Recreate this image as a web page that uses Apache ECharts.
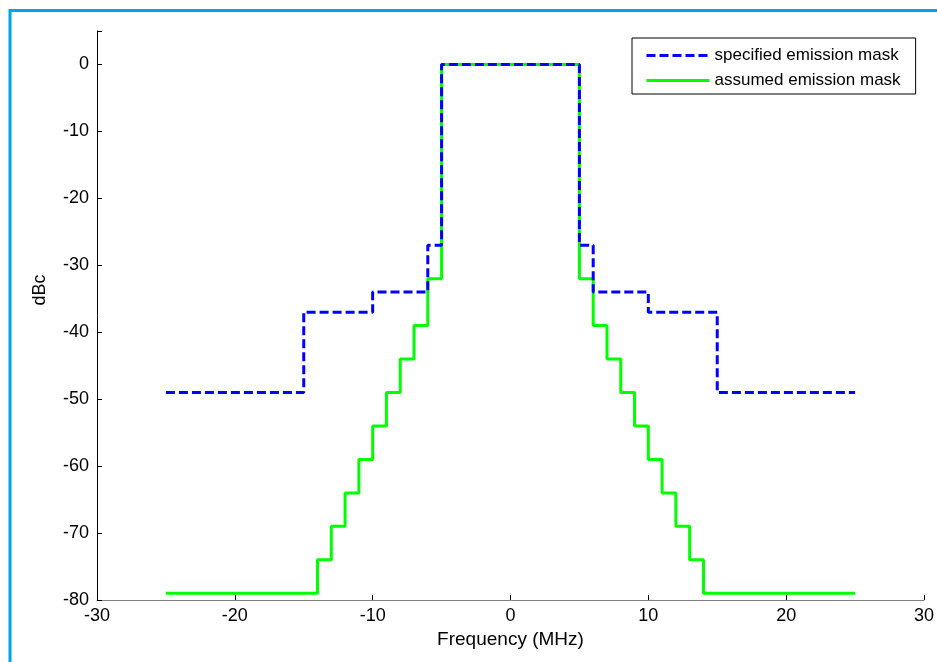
<!DOCTYPE html>
<html>
<head>
<meta charset="utf-8">
<script src="https://cdn.jsdelivr.net/npm/echarts@6/dist/echarts.min.js"></script>
<style>
html,body{margin:0;padding:0;background:#fff;}
#chart{width:937px;height:662px;}
</style>
</head>
<body>
<div id="chart"></div>
<script>
// Specified emission mask (step: value held from x until next x)
var specFreq = [-25, -15, -10, -6, -5, 5, 6, 10, 15, 25];
var specDbc  = [-49, -37, -34, -27, 0, -27, -34, -37, -49, -49];

// Assumed emission mask
var assumedFreq = [-25, -14, -13, -12, -11, -10, -9, -8, -7, -6, -5, 5, 6, 7, 8, 9, 10, 11, 12, 13, 14, 25];
var assumedDbc  = [-79, -74, -69, -64, -59, -54, -49, -44, -39, -32, 0, -32, -39, -44, -49, -54, -59, -64, -69, -74, -79, -79];

var seriesNames = ['specified emission mask', 'assumed emission mask'];
var xTicks = [-30, -20, -10, 0, 10, 20, 30];
var yTicks = [-80, -70, -60, -50, -40, -30, -20, -10, 0];

function pairs(xs, ys) { return xs.map(function (x, i) { return [x, ys[i]]; }); }

var chart = echarts.init(document.getElementById('chart'), null, {renderer: 'canvas'});
var font = 'Liberation Sans, Arial, Helvetica, sans-serif';

chart.setOption({
  animation: false,
  backgroundColor: '#ffffff',
  textStyle: {fontFamily: font},
  grid: {left: 97, right: 12, top: 31, bottom: 62, containLabel: false},
  legend: {
    data: seriesNames,
    orient: 'vertical',
    left: 632,
    top: 38,
    borderColor: '#000',
    borderWidth: 1,
    borderRadius: 0,
    padding: [9, 15, 5, 13],
    itemWidth: 63,
    itemHeight: 14,
    itemGap: 8,
    itemStyle: {opacity: 0},
    lineStyle: {width: 3},
    textStyle: {fontFamily: font, fontSize: 17, color: '#000', lineHeight: 17},
    backgroundColor: '#fff'
  },
  graphic: [
    {type: 'rect', shape: {x: 10, y: 10.5, width: 1000, height: 1000}, style: {fill: 'none', stroke: '#00a2e8', lineWidth: 3}, silent: true, z: 100},
    {type: 'text', x: 40, y: 290, rotation: Math.PI / 2, style: {text: 'dBc', fontFamily: font, fontSize: 18, fill: '#000', align: 'center', verticalAlign: 'middle'}}
  ],
  xAxis: {
    type: 'value',
    min: xTicks[0],
    max: xTicks[xTicks.length - 1],
    interval: 10,
    name: 'Frequency (MHz)',
    nameLocation: 'middle',
    nameGap: 30,
    nameTextStyle: {fontFamily: font, fontSize: 19, color: '#000'},
    axisLine: {show: true, onZero: false, lineStyle: {color: '#808080', width: 1}},
    axisTick: {show: true, inside: true, length: 5, lineStyle: {color: '#000'}},
    axisLabel: {fontFamily: font, fontSize: 18, color: '#000', margin: 7},
    splitLine: {show: false}
  },
  yAxis: {
    type: 'value',
    min: yTicks[0],
    max: 5,
    interval: 10,
    axisLine: {show: true, onZero: false, lineStyle: {color: '#000', width: 1}},
    axisTick: {show: true, inside: true, length: 5, lineStyle: {color: '#000'}},
    axisLabel: {
      fontFamily: font, fontSize: 18, color: '#000', margin: 8,
      formatter: function (v) { return yTicks.indexOf(v) >= 0 ? String(v) : ''; }
    },
    splitLine: {show: false}
  },
  series: [
    {
      name: seriesNames[1],
      type: 'line',
      step: 'end',
      symbol: 'none',
      data: pairs(assumedFreq, assumedDbc),
      lineStyle: {color: '#00ff00', width: 3, type: 'solid'},
      itemStyle: {color: '#00ff00'},
      z: 2
    },
    {
      name: seriesNames[0],
      type: 'line',
      step: 'end',
      symbol: 'none',
      data: pairs(specFreq, specDbc),
      lineStyle: {color: '#0000ff', width: 3, type: [9, 4]},
      itemStyle: {color: '#0000ff'},
      z: 3
    }
  ]
});
</script>
</body>
</html>
